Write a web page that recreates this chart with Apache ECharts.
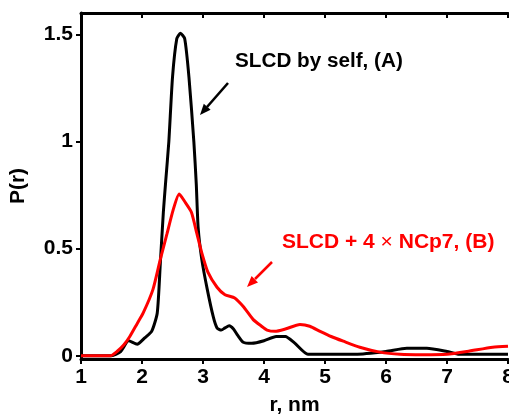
<!DOCTYPE html>
<html><head><meta charset="utf-8">
<script src="https://cdn.jsdelivr.net/npm/echarts@6/dist/echarts.min.js"></script>
<style>html,body{margin:0;padding:0;background:#fff}#c{width:509px;height:418px}</style>
</head><body><div id="c"></div>
<script>
// Series A: SLCD by self (black)
var rA = [1, 1.5, 1.65, 1.78, 1.92, 2.05, 2.16, 2.25, 2.3, 2.35, 2.39, 2.44, 2.5, 2.57, 2.63, 2.7, 2.77, 2.85, 2.89, 2.92, 2.98, 3.07, 3.17, 3.23, 3.3, 3.36, 3.43, 3.5, 3.57, 3.66, 3.8, 4.0, 4.2, 4.35, 4.5, 4.72, 5.0, 5.5, 6.0, 6.34, 6.67, 7.0, 7.2, 8.0];
var pA = [0, 0, 0.02, 0.07, 0.054, 0.085, 0.115, 0.2, 0.43, 0.67, 0.82, 1.0, 1.3, 1.48, 1.505, 1.48, 1.3, 1.0, 0.8, 0.6, 0.45, 0.31, 0.18, 0.13, 0.12, 0.13, 0.14, 0.125, 0.095, 0.063, 0.058, 0.07, 0.09, 0.09, 0.06, 0.007, 0.007, 0.007, 0.02, 0.035, 0.035, 0.02, 0.007, 0.007];
// Series B: SLCD + 4 x NCp7 (red)
var rB = [1, 1.48, 1.59, 1.7, 1.8, 1.92, 2.02, 2.18, 2.3, 2.41, 2.51, 2.61, 2.7, 2.81, 2.9, 2.98, 3.08, 3.23, 3.36, 3.52, 3.66, 3.82, 3.95, 4.05, 4.18, 4.35, 4.59, 4.75, 4.92, 5.1, 5.3, 5.57, 5.9, 6.23, 6.6, 7.0, 7.33, 7.75, 8.0];
var pB = [0, 0, 0.02, 0.05, 0.09, 0.15, 0.2, 0.31, 0.45, 0.57, 0.68, 0.755, 0.72, 0.67, 0.57, 0.48, 0.39, 0.32, 0.285, 0.27, 0.23, 0.17, 0.14, 0.12, 0.114, 0.125, 0.146, 0.138, 0.114, 0.09, 0.068, 0.04, 0.017, 0.007, 0.005, 0.007, 0.02, 0.04, 0.045];
var yTicks = [0, 0.5, 1, 1.5];
var labelA = 'SLCD by self, (A)';
var labelB = ['SLCD + 4 ', '\u00d7', ' NCp7, (B)'];

function zip(a, b) { return a.map(function (v, i) { return [v, b[i]]; }); }
var FONT = '"Liberation Sans", Arial, sans-serif';
var chart = echarts.init(document.getElementById('c'));
var lbl = { color: '#000', fontSize: 21, fontWeight: 'bold', fontFamily: FONT };
chart.setOption({
  animation: false,
  backgroundColor: '#fff',
  grid: { left: 81, right: 1, top: 13, bottom: 59, outerBoundsMode: 'none', containLabel: false },
  xAxis: [{
    type: 'value', position: 'bottom', min: 1, max: 8, interval: 1,
    name: 'r, nm', nameLocation: 'middle', nameGap: 36,
    nameTextStyle: { color: '#000', fontSize: 21, fontWeight: 'bold', fontFamily: FONT },
    axisLine: { onZero: false, lineStyle: { color: '#000', width: 3 } },
    axisTick: { show: true, inside: false, length: 5, lineStyle: { color: '#000', width: 2 } },
    axisLabel: Object.assign({ margin: 8, hideOverlap: false }, lbl),
    splitLine: { show: false }
  }, {
    type: 'value', position: 'top', min: 1, max: 8, interval: 1,
    axisLine: { onZero: false, lineStyle: { color: '#000', width: 3 } },
    axisTick: { show: true, inside: true, length: 5, lineStyle: { color: '#000', width: 2 } },
    axisLabel: { show: false },
    splitLine: { show: false }
  }],
  yAxis: {
    type: 'value', min: -0.015, max: 1.6,
    name: 'P(r)', nameLocation: 'middle', nameGap: 52, nameRotate: 90,
    nameTextStyle: { color: '#000', fontSize: 21, fontWeight: 'bold', fontFamily: FONT },
    axisLine: { show: true, onZero: false, lineStyle: { color: '#000', width: 3 } },
    axisTick: { show: true, length: 5, customValues: yTicks, lineStyle: { color: '#000', width: 2 } },
    axisLabel: Object.assign({ margin: 8, customValues: yTicks }, lbl),
    splitLine: { show: false }
  },
  series: [{
    type: 'line', name: labelA, data: zip(rA, pA), showSymbol: false, smooth: 0.2,
    lineStyle: { color: '#000', width: 3 }, z: 2
  }, {
    type: 'line', name: labelB.join(''), data: zip(rB, pB), showSymbol: false, smooth: 0.2,
    lineStyle: { color: '#ff0000', width: 3 }, z: 3
  }],
  graphic: [
    { type: 'text', left: 235, top: 51, style: { text: labelA, fill: '#000', font: 'bold 20.7px ' + FONT } },
    { type: 'line', shape: { x1: 228, y1: 83, x2: 207, y2: 107 }, style: { stroke: '#000', lineWidth: 2.5 } },
    { type: 'polygon', shape: { points: [[200, 115], [210.6, 109.7], [203.8, 103.7]] }, style: { fill: '#000' } },
    { type: 'text', left: 282, top: 232, style: {
        text: '{b|' + labelB[0] + '}{x|' + labelB[1] + '}{b|' + labelB[2] + '}',
        rich: {
          b: { fill: '#ff0000', font: 'bold 21px ' + FONT },
          x: { fill: '#ff0000', font: 'normal 21px ' + FONT }
        } } },
    { type: 'line', shape: { x1: 272, y1: 262, x2: 255, y2: 279 }, style: { stroke: '#ff0000', lineWidth: 2.5 } },
    { type: 'polygon', shape: { points: [[247, 287], [258, 282.4], [251.6, 276]] }, style: { fill: '#ff0000' } }
  ]
});
</script></body></html>
